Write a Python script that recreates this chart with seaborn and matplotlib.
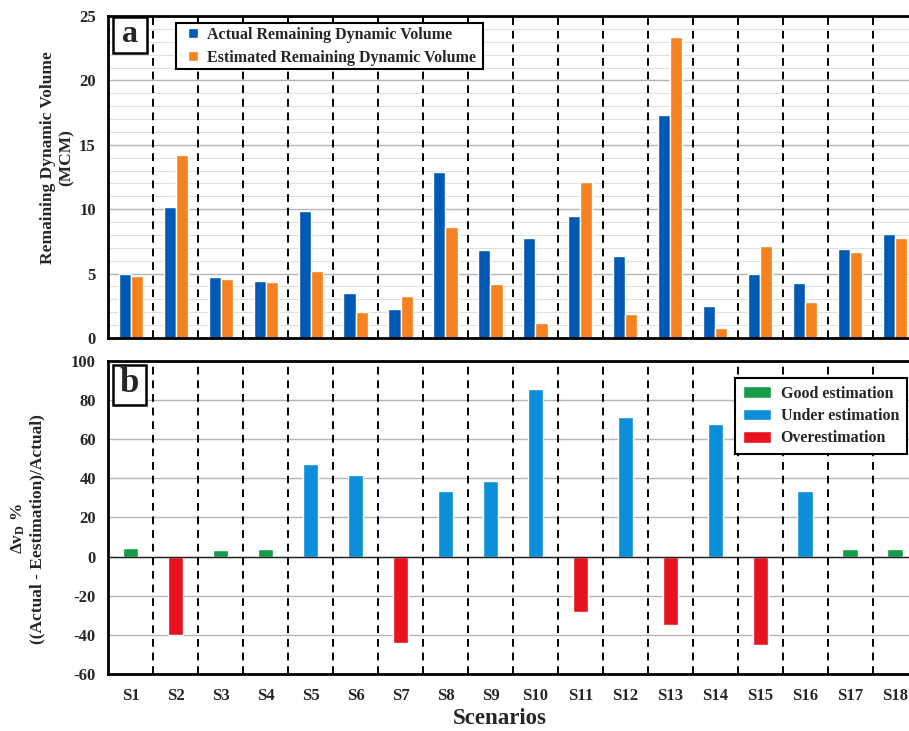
import numpy as np
import pandas as pd
import matplotlib
matplotlib.use("Agg")
import matplotlib.pyplot as plt
import seaborn as sns
from matplotlib.ticker import MultipleLocator
from matplotlib.patches import Rectangle

scenarios = [f"S{i}" for i in range(1, 19)]
actual = [5.0, 10.15, 4.7, 4.45, 9.85, 3.5, 2.25, 12.85, 6.8, 7.8, 9.45, 6.4, 17.3, 2.5, 4.95, 4.25, 6.9, 8.1]
estimated = [4.8, 14.2, 4.55, 4.35, 5.2, 2.05, 3.25, 8.6, 4.2, 1.15, 12.1, 1.9, 23.35, 0.8, 7.15, 2.8, 6.65, 7.75]
delta = [4.2, -40.0, 3.2, 3.6, 47.0, 41.6, -44.0, 33.3, 38.6, 85.3, -28.3, 71.0, -35.0, 67.6, -45.0, 33.6, 3.6, 3.9]
status = ["Good estimation", "Overestimation", "Good estimation", "Good estimation",
          "Under estimation", "Under estimation", "Overestimation", "Under estimation",
          "Under estimation", "Under estimation", "Overestimation", "Under estimation",
          "Overestimation", "Under estimation", "Overestimation", "Under estimation",
          "Good estimation", "Good estimation"]
series_names = ["Actual Remaining Dynamic Volume", "Estimated Remaining Dynamic Volume"]
status_order = ["Good estimation", "Under estimation", "Overestimation"]

sns.set_theme(style="white")
plt.rcParams["font.family"] = ["Liberation Serif", "DejaVu Serif"]
plt.rcParams["font.weight"] = "bold"
plt.rcParams["axes.unicode_minus"] = False
plt.rcParams["mathtext.fontset"] = "custom"
plt.rcParams["mathtext.rm"] = "Liberation Serif"
plt.rcParams["mathtext.bf"] = "Liberation Serif:bold"
plt.rcParams["mathtext.it"] = "Liberation Serif:bold"

df_top = pd.DataFrame({
    "Scenario": scenarios * 2,
    "Value": actual + estimated,
    "Series": [series_names[0]] * 18 + [series_names[1]] * 18,
})
df_bot = pd.DataFrame({"Scenario": scenarios, "Delta": delta, "Status": status})

fig = plt.figure(figsize=(9.09, 7.31), dpi=100)
W, H = 909, 731
left_px, right_px = 108.35, 917.5
aw = right_px - left_px
t1, b1 = 16, 338
t2, b2 = 360.7, 674
ax1 = fig.add_axes([left_px / W, 1 - b1 / H, aw / W, (b1 - t1) / H])
ax2 = fig.add_axes([left_px / W, 1 - b2 / H, aw / W, (b2 - t2) / H])

def fx(px):
    return (px - left_px) / aw

def fy(py, t, b):
    return (b - py) / (b - t)

blue, orange = "#0059B5", "#F5821F"
green, lblue, red = "#169B48", "#0B8FDB", "#E8131F"

sns.barplot(data=df_top, x="Scenario", y="Value", hue="Series", order=scenarios,
            hue_order=series_names, palette=[blue, orange], width=0.54,
            saturation=1, ax=ax1, legend=True)
sns.barplot(data=df_bot, x="Scenario", y="Delta", hue="Status", order=scenarios,
            hue_order=status_order, palette=[green, lblue, red], width=0.34,
            dodge=False, saturation=1, ax=ax2, legend=True)

for ax in (ax1, ax2):
    ax.set_xlim(-0.5, 17.5)
    for b in np.arange(0.5, 17.0, 1.0):
        ax.axvline(b, color="black", lw=1.4, ls=(0, (4, 3)), zorder=3)
    for s in ax.spines.values():
        s.set_linewidth(2.0)
        s.set_color("black")
    ax.spines["right"].set_visible(False)
    ax.tick_params(axis="both", length=0, labelsize=12)
    ax.tick_params(axis="y", pad=9)
    ax.set_axisbelow(True)

# top panel
ax1.set_ylim(0, 25)
ax1.yaxis.set_major_locator(MultipleLocator(5))
ax1.yaxis.set_minor_locator(MultipleLocator(1))
ax1.grid(axis="y", which="major", color="#b5b5b5", lw=1.0)
ax1.grid(axis="y", which="minor", color="#e0e0e0", lw=0.8)
ax1.set_xlabel("")
ax1.set_xticklabels([])
ax1.set_ylabel("Remaining Dynamic Volume\n(MCM)", fontsize=12.5, fontweight="bold")
ax1.yaxis.set_label_coords(-0.042, fy(158, t1, b1))
for lab in ax1.get_yticklabels():
    lab.set_fontweight("bold")
# legend frame drawn separately (wider horizontal padding than vertical)
ax1.add_patch(Rectangle((fx(175.7), fy(69.3, t1, b1)), fx(483.3) - fx(175.7),
                        fy(23.3, t1, b1) - fy(69.3, t1, b1), transform=ax1.transAxes,
                        fc="white", ec="black", lw=1.5, zorder=5))
leg1 = ax1.legend(loc="upper left", bbox_to_anchor=(fx(186), fy(24.5, t1, b1)),
                  borderaxespad=0, frameon=False,
                  prop={"size": 11.5, "weight": "bold"},
                  handlelength=0.6, handleheight=0.6, handletextpad=0.55,
                  labelspacing=0.43, borderpad=0.15)
leg1.set_zorder(6)
ax1.add_patch(Rectangle((fx(113), fy(53, t1, b1)), fx(147) - fx(113),
                        fy(17, t1, b1) - fy(53, t1, b1), transform=ax1.transAxes,
                        fc="white", ec="black", lw=1.8, zorder=6, clip_on=False))
ax1.text(fx(130), fy(34, t1, b1), "a", transform=ax1.transAxes, fontsize=23,
         fontweight="bold", va="center", ha="center", zorder=7)

# bottom panel
ax2.set_ylim(-60, 100)
ax2.yaxis.set_major_locator(MultipleLocator(20))
ax2.grid(axis="y", which="major", color="#b5b5b5", lw=1.0)
ax2.axhline(0, color="#222222", lw=1.0, zorder=2)
ax2.set_xlabel("")
ax2.set_xticks(range(18))
ax2.set_xticklabels(scenarios, fontsize=12, fontweight="bold")
ax2.tick_params(axis="x", pad=10)
for lab in ax2.get_yticklabels():
    lab.set_fontweight("bold")
ax2.set_ylabel(r"$\mathbf{\Delta v_D}$ %" + "\n((Actual - Eestimation)/Actual)",
               fontsize=12.5, fontweight="bold")
ax2.yaxis.set_label_coords(-0.078, fy(529, t2, b2))
leg2 = ax2.legend(loc="upper right", bbox_to_anchor=(fx(907), fy(377.7, t2, b2)),
                  borderaxespad=0, frameon=True, fancybox=False, edgecolor="black",
                  framealpha=1, prop={"size": 11.5, "weight": "bold"},
                  handlelength=1.75, handleheight=0.75, handletextpad=0.6,
                  labelspacing=0.4, borderpad=0.5)
leg2.get_frame().set_linewidth(1.5)
ax2.add_patch(Rectangle((fx(113), fy(405, t2, b2)), fx(146) - fx(113),
                        fy(365, t2, b2) - fy(405, t2, b2), transform=ax2.transAxes,
                        fc="white", ec="black", lw=1.8, zorder=6, clip_on=False))
ax2.text(fx(129.5), fy(384, t2, b2), "b", transform=ax2.transAxes, fontsize=25,
         fontweight="bold", va="center", ha="center", zorder=7)

fig.text(500 / W, 1 - 719 / H, "Scenarios", fontsize=16.5, fontweight="bold",
         ha="center", va="center")

fig.savefig("out.png", dpi=100)
